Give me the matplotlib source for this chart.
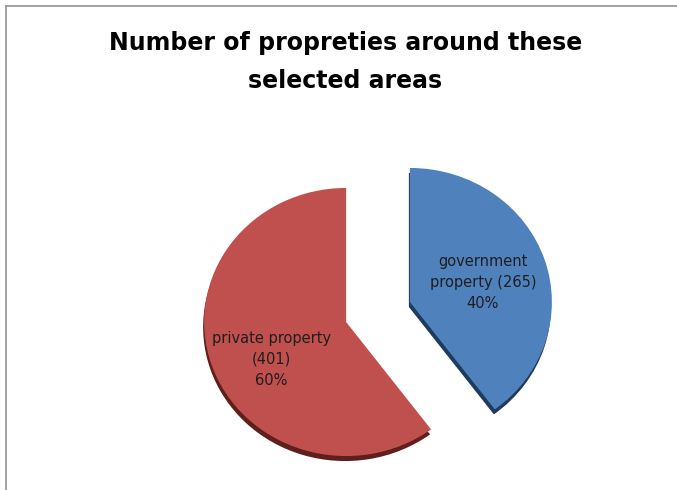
import matplotlib.pyplot as plt
from matplotlib.lines import Line2D

# data
categories = ['government property', 'private property']
counts = [265, 401]
colors = ['#4F81BD', '#C0504D']
shadow_colors = ['#1F3B5E', '#5E1F1D']
title = 'Number of propreties around these\nselected areas'

W, H = 677, 490
squash = 0.944  # pie is a bit flatter than a circle

fig = plt.figure(figsize=(W / 100, H / 100), dpi=100)
ax = fig.add_axes([0, 0, 1, 1])

# frame lines (chart area is cut at right and bottom)
fig.add_artist(Line2D([6 / W, 1], [1 - 6 / H, 1 - 6 / H], color='#9a9a9a', lw=1.3))
fig.add_artist(Line2D([6 / W, 6 / W], [0, 1 - 6 / H], color='#9a9a9a', lw=1.3))

center = (378, (H - 312) / squash)
radius = 142
explode = [33.6, 33.6]  # absolute offset in data units
# where each label sits relative to its (exploded) wedge centre, px
label_offsets = [(73, 19), (-75, -37)]


def label_text(pct):
    val = int(round(pct * sum(counts) / 100))
    if val == counts[0]:
        return f'government\nproperty ({val})\n{pct:.0f}%'
    return f'private property\n({val})\n{pct:.0f}%'


# shadow layer for the 3D look
sh_center = (center[0] - 1, center[1] - 5 / squash)
ax.pie(counts, colors=shadow_colors, startangle=90, counterclock=False,
       explode=explode, radius=radius, center=sh_center, frame=True,
       wedgeprops=dict(linewidth=0))

wedges, texts, autotexts = ax.pie(
    counts, colors=colors, startangle=90, counterclock=False,
    explode=explode, radius=radius, center=center, frame=True,
    autopct=label_text, pctdistance=0.56,
    wedgeprops=dict(linewidth=0),
    textprops=dict(fontsize=10.5, color='#1e1e1e', linespacing=1.5))

for w, t, (dx, dy) in zip(wedges, autotexts, label_offsets):
    cx, cy = w.center
    t.set_position((cx + dx, cy + dy / squash))

ax.set_aspect('auto')
ax.set_xlim(0, W)
ax.set_ylim(0, H / squash)
ax.axis('off')

fig.text(0.51, 1 - 62 / H, title, ha='center', va='center', fontsize=17,
         fontweight='bold', linespacing=1.75)

fig.savefig('out.png', dpi=100)
